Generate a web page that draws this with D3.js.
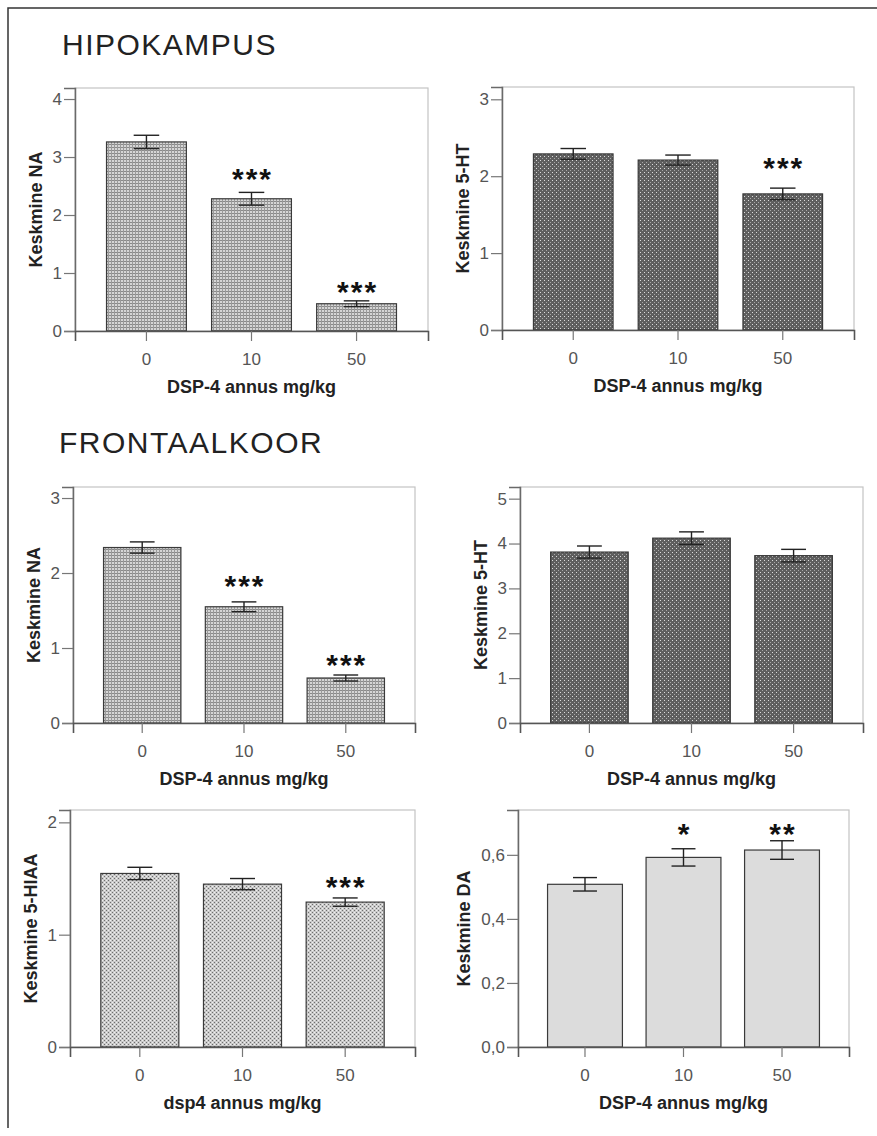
<!DOCTYPE html>
<html>
<head>
<meta charset="utf-8">
<script src="https://cdn.jsdelivr.net/npm/d3@7/dist/d3.min.js"></script>
<style>
  body { margin: 0; background: #fff; }
  svg { display: block; font-family: "Liberation Sans", Arial, sans-serif; }
</style>
</head>
<body>
<div id="fig"></div>
<script>
// doses on the x axis
var doses = ["0", "10", "50"];

// HIPOKAMPUS
var hipNA = [3.26, 2.28, 0.47];
var hipNAse = [0.115, 0.11, 0.05];
var hipNAsig = ["", "***", "***"];
var hipNAsigAt = [null, 2.73, 0.78];
var hipNAticks = [0, 1, 2, 3, 4];

var hip5HT = [2.29, 2.21, 1.77];
var hip5HTse = [0.07, 0.065, 0.075];
var hip5HTsig = ["", "", "***"];
var hip5HTsigAt = [null, null, 2.19];
var hip5HTticks = [0, 1, 2, 3];

// FRONTAALKOOR
var frNA = [2.34, 1.55, 0.60];
var frNAse = [0.075, 0.065, 0.04];
var frNAsig = ["", "***", "***"];
var frNAsigAt = [null, 1.91, 0.853];
var frNAticks = [0, 1, 2, 3];

var fr5HT = [3.81, 4.12, 3.73];
var fr5HTse = [0.135, 0.14, 0.14];
var fr5HTsig = ["", "", ""];
var fr5HTsigAt = [null, null, null];
var fr5HTticks = [0, 1, 2, 3, 4, 5];

var fr5HIAA = [1.545, 1.45, 1.29];
var fr5HIAAse = [0.055, 0.05, 0.037];
var fr5HIAAsig = ["", "", "***"];
var fr5HIAAsigAt = [null, null, 1.48];
var fr5HIAAticks = [0, 1, 2];

var frDA = [0.508, 0.592, 0.615];
var frDAse = [0.021, 0.027, 0.029];
var frDAsig = ["", "*", "**"];
var frDAsigAt = [null, 0.683, 0.683];
var frDAticks = [0, 0.2, 0.4, 0.6];

var W = 877, H = 1136;

var svg = d3.select("#fig").append("svg").attr("width", W).attr("height", H);

// bar fill patterns
var defs = svg.append("defs");

var pGrid = defs.append("pattern").attr("id", "grid")
	.attr("width", 3).attr("height", 3).attr("patternUnits", "userSpaceOnUse");
pGrid.append("rect").attr("width", 3).attr("height", 3).attr("fill", "#d6d6d6");
pGrid.append("rect").attr("width", 3).attr("height", 1).attr("fill", "#8a8a8a");
pGrid.append("rect").attr("width", 1).attr("height", 3).attr("fill", "#9a9a9a");

var pDark = defs.append("pattern").attr("id", "dark")
	.attr("width", 4).attr("height", 4).attr("patternUnits", "userSpaceOnUse");
pDark.append("rect").attr("width", 4).attr("height", 4).attr("fill", "#5e5e5e");
pDark.append("rect").attr("width", 1).attr("height", 1).attr("fill", "#dcdcdc");
pDark.append("rect").attr("x", 2).attr("y", 2).attr("width", 1).attr("height", 1).attr("fill", "#a8a8a8");

var pLight = defs.append("pattern").attr("id", "light")
	.attr("width", 4).attr("height", 4).attr("patternUnits", "userSpaceOnUse");
pLight.append("rect").attr("width", 4).attr("height", 4).attr("fill", "#cacaca");
pLight.append("rect").attr("width", 1).attr("height", 1).attr("fill", "#6e6e6e");
pLight.append("rect").attr("x", 2).attr("y", 2).attr("width", 1).attr("height", 1).attr("fill", "#6e6e6e");
pLight.append("rect").attr("x", 2).attr("y", 0).attr("width", 1).attr("height", 1).attr("fill", "#f0f0f0");
pLight.append("rect").attr("x", 0).attr("y", 2).attr("width", 1).attr("height", 1).attr("fill", "#f0f0f0");

// outer frame (left and top edges, rest cropped)
svg.append("path")
	.attr("d", "M8,1128 L8,8 L877,8")
	.attr("fill", "none").attr("stroke", "#333").attr("stroke-width", 1.5);

// section titles
svg.append("text").attr("x", 62).attr("y", 55).text("HIPOKAMPUS")
	.attr("font-size", 30).attr("letter-spacing", 1.5).attr("fill", "#222");
svg.append("text").attr("x", 59).attr("y", 453).text("FRONTAALKOOR")
	.attr("font-size", 30).attr("letter-spacing", 1.5).attr("fill", "#222");

var intFmt = d3.format("d");
var commaFmt = function(d) { return d3.format(".1f")(d).replace(".", ","); };

var panels = [
	{box: [75, 88, 428, 331], yMax: 4.19, values: hipNA, se: hipNAse, sig: hipNAsig, sigAt: hipNAsigAt,
	 ticks: hipNAticks, fill: "url(#grid)", ylab: "Keskmine NA", xlab: "DSP-4 annus mg/kg"},
	{box: [502, 87, 854, 330], yMax: 3.16, values: hip5HT, se: hip5HTse, sig: hip5HTsig, sigAt: hip5HTsigAt,
	 ticks: hip5HTticks, fill: "url(#dark)", ylab: "Keskmine 5-HT", xlab: "DSP-4 annus mg/kg"},
	{box: [73, 487, 415, 723], yMax: 3.147, values: frNA, se: frNAse, sig: frNAsig, sigAt: frNAsigAt,
	 ticks: frNAticks, fill: "url(#grid)", ylab: "Keskmine NA", xlab: "DSP-4 annus mg/kg"},
	{box: [520, 487, 863, 723], yMax: 5.26, values: fr5HT, se: fr5HTse, sig: fr5HTsig, sigAt: fr5HTsigAt,
	 ticks: fr5HTticks, fill: "url(#dark)", ylab: "Keskmine 5-HT", xlab: "DSP-4 annus mg/kg"},
	{box: [70, 810, 415, 1047], yMax: 2.11, values: fr5HIAA, se: fr5HIAAse, sig: fr5HIAAsig, sigAt: fr5HIAAsigAt,
	 ticks: fr5HIAAticks, fill: "url(#light)", ylab: "Keskmine 5-HIAA", xlab: "dsp4 annus mg/kg"},
	{box: [518, 810, 849, 1047], yMax: 0.74, values: frDA, se: frDAse, sig: frDAsig, sigAt: frDAsigAt,
	 ticks: frDAticks, fill: "#dcdcdc", ylab: "Keskmine DA", xlab: "DSP-4 annus mg/kg", fmt: commaFmt}
];

function drawPanel(p) {
	var x0 = p.box[0], y0 = p.box[1], x1 = p.box[2], y1 = p.box[3];
	var g = svg.append("g");

	var x = d3.scaleBand().domain(doses).range([x0, x1])
		.paddingInner(0.24).paddingOuter(0.3);
	var y = d3.scaleLinear().domain([0, p.yMax]).range([y1, y0]);

	// light frame
	g.append("rect").attr("x", x0).attr("y", y0)
		.attr("width", x1 - x0).attr("height", y1 - y0)
		.attr("fill", "none").attr("stroke", "#c4c4c4").attr("stroke-width", 1.2);

	// bars
	g.selectAll(".bar").data(p.values).enter().append("rect")
		.attr("x", function(d, i) { return x(doses[i]); })
		.attr("y", function(d) { return y(d); })
		.attr("width", x.bandwidth())
		.attr("height", function(d) { return y(0) - y(d); })
		.attr("fill", p.fill)
		.attr("stroke", "#3a3a3a").attr("stroke-width", 1.2);

	// error bars
	var cap = x.bandwidth() * 0.16;
	p.values.forEach(function(v, i) {
		var cx = x(doses[i]) + x.bandwidth() / 2;
		var hi = y(v + p.se[i]), lo = y(v - p.se[i]);
		var eb = g.append("g").attr("stroke", "#222").attr("stroke-width", 1.4).attr("fill", "none");
		eb.append("line").attr("x1", cx).attr("x2", cx).attr("y1", hi).attr("y2", lo);
		eb.append("line").attr("x1", cx - cap).attr("x2", cx + cap).attr("y1", hi).attr("y2", hi);
		eb.append("line").attr("x1", cx - cap).attr("x2", cx + cap).attr("y1", lo).attr("y2", lo);

		if (p.sig[i]) {
			g.append("text")
				.attr("x", cx + 1).attr("y", y(p.sigAt[i]) + 16)
				.attr("text-anchor", "middle")
				.attr("font-size", 30).attr("font-weight", "bold")
				.attr("letter-spacing", 2)
				.attr("fill", "#111")
				.text(p.sig[i]);
		}
	});

	// y axis
	var yAxis = d3.axisLeft(y).tickValues(p.ticks).tickSize(11).tickPadding(2)
		.tickFormat(p.fmt || intFmt);
	var ya = g.append("g").attr("transform", "translate(" + x0 + ",0)").call(yAxis);
	ya.select(".domain").attr("stroke", "#6a6a6a").attr("stroke-width", 1.5);
	ya.selectAll(".tick line").attr("stroke", "#777").attr("stroke-width", 1.2);
	ya.selectAll(".tick text").attr("font-size", 17).attr("fill", "#555")
		.attr("font-family", "Liberation Sans, Arial, sans-serif");

	// x axis
	var xAxis = d3.axisBottom(x).tickSize(10).tickPadding(12);
	var xa = g.append("g").attr("transform", "translate(0," + y1 + ")").call(xAxis);
	xa.select(".domain").attr("stroke", "#555").attr("stroke-width", 1.6);
	xa.selectAll(".tick line").attr("stroke", "#777").attr("stroke-width", 1.2);
	xa.selectAll(".tick text").attr("font-size", 17).attr("fill", "#555")
		.attr("font-family", "Liberation Sans, Arial, sans-serif");

	// axis titles
	var maxW = 0;
	ya.selectAll(".tick text").each(function() { maxW = Math.max(maxW, this.getBBox().width); });
	var lx = x0 - 13 - maxW - 11;
	g.append("text")
		.attr("transform", "translate(" + lx + "," + ((y0 + y1) / 2) + ") rotate(-90)")
		.attr("text-anchor", "middle")
		.attr("font-size", 18).attr("font-weight", "bold").attr("fill", "#222")
		.text(p.ylab);

	g.append("text")
		.attr("x", (x0 + x1) / 2).attr("y", y1 + 62)
		.attr("text-anchor", "middle")
		.attr("font-size", 18).attr("font-weight", "bold").attr("fill", "#222")
		.text(p.xlab);
}

panels.forEach(drawPanel);
</script>
</body>
</html>
